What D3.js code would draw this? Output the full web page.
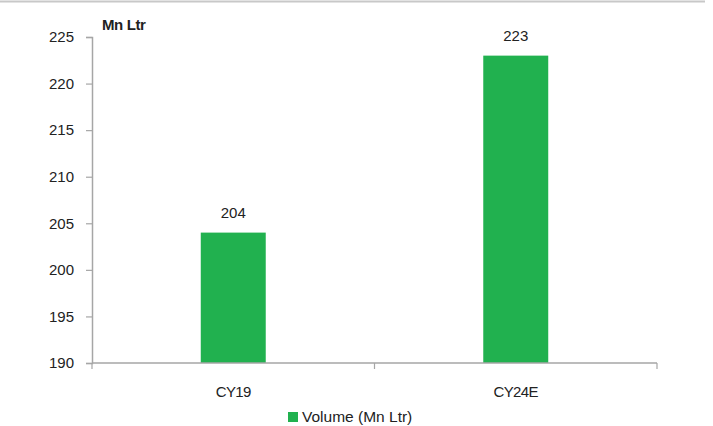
<!DOCTYPE html>
<html>
<head>
<meta charset="utf-8">
<script src="https://cdn.jsdelivr.net/npm/d3@7"></script>
<style>
  body { margin: 0; background: #fff; }
  svg { display: block; }
  text { font-family: "Liberation Sans", "DejaVu Sans", sans-serif; fill: #222; }
</style>
</head>
<body>
<svg id="chart" width="713" height="426"></svg>
<script>
// Volume by calendar year (Mn Ltr)
const categories = ["CY19", "CY24E"];
const volume = [204, 223];
const yTicks = [190, 195, 200, 205, 210, 215, 220, 225];
const seriesName = "Volume (Mn Ltr)";
const unitLabel = "Mn Ltr";

const svg = d3.select("#chart");
const W = 713, H = 426;
const m = { left: 92, right: 56, top: 37, bottom: 63 };
const green = "#21b14f";
const axisGrey = "#a6a6a6";
const fs = 15;

// frame line across the top
svg.append("line")
  .attr("x1", 0).attr("x2", 705).attr("y1", 1.5).attr("y2", 1.5)
  .attr("stroke", "#c8c8c8").attr("stroke-width", 2);

const x = d3.scaleBand().domain(categories)
  .range([m.left, W - m.right]).paddingInner(0).paddingOuter(0);
const y = d3.scaleLinear().domain([190, 225]).range([H - m.bottom, m.top]);
const barW = x.bandwidth() * 0.23;

// y axis
const yAxis = svg.append("g").attr("transform", `translate(${m.left},0)`)
  .call(d3.axisLeft(y).tickValues(yTicks).tickSize(6).tickPadding(12).tickFormat(d3.format("d")));
yAxis.select(".domain").attr("stroke", axisGrey).attr("stroke-width", 1.5);
yAxis.selectAll(".tick line").attr("stroke", axisGrey).attr("stroke-width", 1.2);
yAxis.selectAll(".tick text").attr("font-size", fs).style("font-family", "'Liberation Sans', sans-serif").attr("fill", "#222");

// bars
svg.append("g").selectAll("rect").data(categories).join("rect")
  .attr("x", (d) => x(d) + x.bandwidth() / 2 - barW / 2)
  .attr("y", (d, i) => y(volume[i]))
  .attr("width", barW)
  .attr("height", (d, i) => y(190) - y(volume[i]))
  .attr("fill", green);

// value labels
svg.append("g").selectAll("text").data(categories).join("text")
  .attr("x", (d) => x(d) + x.bandwidth() / 2)
  .attr("y", (d, i) => y(volume[i]) - 15)
  .attr("text-anchor", "middle")
  .attr("font-size", fs)
  .text((d, i) => volume[i]);

// x axis with ticks at band boundaries
const baseY = y(190);
svg.append("line")
  .attr("x1", m.left).attr("x2", W - m.right).attr("y1", baseY).attr("y2", baseY)
  .attr("stroke", axisGrey).attr("stroke-width", 1.5);
const bounds = [x.range()[0], ...categories.slice(1).map((c) => x(c)), x.range()[1]];
svg.append("g").selectAll("line").data(bounds).join("line")
  .attr("x1", (d) => d).attr("x2", (d) => d)
  .attr("y1", baseY).attr("y2", baseY + 6)
  .attr("stroke", axisGrey).attr("stroke-width", 1.2);
svg.append("g").selectAll("text").data(categories).join("text")
  .attr("x", (d) => x(d) + x.bandwidth() / 2)
  .attr("y", baseY + 33.5)
  .attr("text-anchor", "middle")
  .attr("font-size", fs)
  .attr("letter-spacing", -0.6)
  .text((d) => d);

// unit label
svg.append("text")
  .attr("x", 102).attr("y", 30)
  .attr("font-size", 15).attr("font-weight", "bold")
  .attr("letter-spacing", -0.4)
  .text(unitLabel);

// legend
const lg = svg.append("g").attr("transform", "translate(288,411)");
lg.append("rect").attr("x", 0).attr("y", 1).attr("width", 10).attr("height", 10).attr("fill", green);
lg.append("text").attr("x", 14).attr("y", 11).attr("font-size", 15.5).text(seriesName);
</script>
</body>
</html>
